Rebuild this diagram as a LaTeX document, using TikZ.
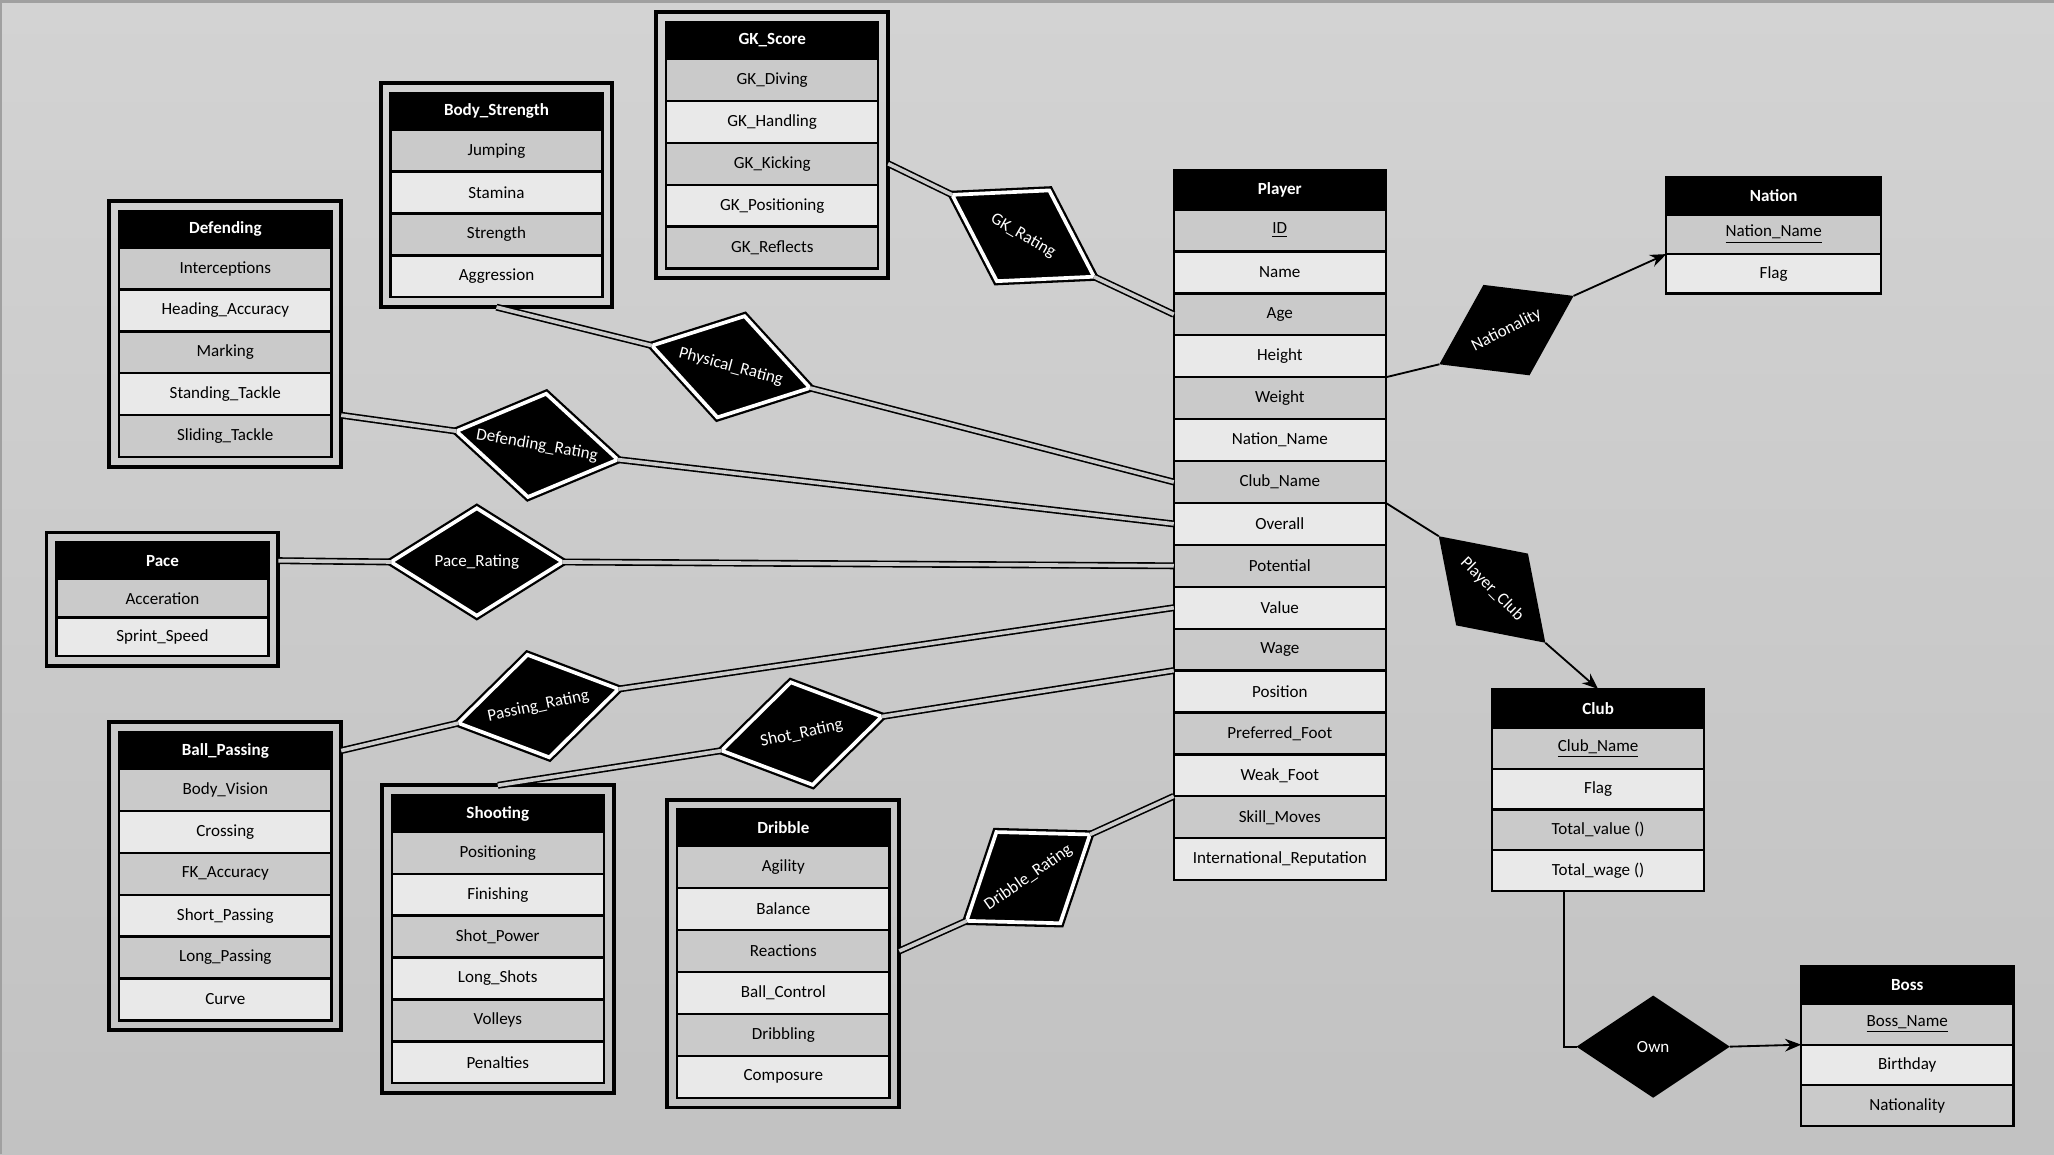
\documentclass[tikz,border=0pt]{standalone}
\usepackage{fontspec}
\setmainfont{Carlito}
\usetikzlibrary{positioning,fit,shapes.geometric,arrows.meta}

\definecolor{bgtop}{HTML}{D3D3D3}
\definecolor{bgbot}{HTML}{C2C2C2}
\definecolor{bgmid}{HTML}{CBCBCB}
\definecolor{edge}{HTML}{A0A0A0}
\definecolor{rowdark}{HTML}{CACACA}
\definecolor{rowlight}{HTML}{E9E9E9}

\begin{document}
\begin{tikzpicture}[x=0.02cm, y=-0.02cm, >={Stealth[length=7pt,width=5.5pt]}]

\tikzstyle{every node}=[font=\fontsize{7.4}{9}\selectfont, inner sep=0pt, outer sep=0pt]
\tikzstyle{head}=[rectangle, draw=black, fill=black, text=white, line width=1pt,
  font=\fontsize{7.4}{9}\selectfont\bfseries, minimum width=3.24cm, minimum height=0.56cm]
\tikzstyle{rowa}=[rectangle, draw=black, fill=rowdark, line width=1pt,
  minimum width=3.24cm, minimum height=0.64cm]
\tikzstyle{rowb}=[rowa, fill=rowlight]
\tikzstyle{frame}=[draw=black, line width=1.7pt, inner sep=0.15cm]
\tikzstyle{wrel}=[diamond, aspect=1.6, draw=black, fill=black, double=white, double distance=1.6pt,
  line width=1pt, text=white, minimum width=2.5cm, minimum height=1.6cm]
\tikzstyle{rel}=[diamond, aspect=1.6, fill=black, text=white, minimum width=2.3cm, minimum height=1.55cm]
\tikzstyle{dline}=[draw=black, line width=0.7pt, double=bgmid, double distance=1.6pt]
\tikzstyle{sline}=[draw=black, line width=0.8pt]

% background
\useasboundingbox (0,0) rectangle (1568,881);
\shade[top color=bgtop, bottom color=bgbot] (0,0) rectangle (1568,881);
\fill[edge] (0,0) rectangle (1568,2);
\fill[edge] (0,0) rectangle (1.5,881);

% GK_Score
\node[head] (gkhead) at (589.5,31) {GK\_Score};
\node[rowa, below=0pt of gkhead] (gkdiv) {GK\_Diving};
\node[rowb, below=0pt of gkdiv] (gkhand) {GK\_Handling};
\node[rowa, below=0pt of gkhand] (gkkick) {GK\_Kicking};
\node[rowb, below=0pt of gkkick] (gkpos) {GK\_Positioning};
\node[rowa, below=0pt of gkpos] (gkrefl) {GK\_Reflects};
\node[frame, fit=(gkhead)(gkrefl)] (gkframe) {};

% Body_Strength
\node[head] (bshead) at (379,85) {Body\_Strength};
\node[rowa, below=0pt of bshead] (jump) {Jumping};
\node[rowb, below=0pt of jump] (stam) {Stamina};
\node[rowa, below=0pt of stam] (stren) {Strength};
\node[rowb, below=0pt of stren] (aggr) {Aggression};
\node[frame, fit=(bshead)(aggr)] (bsframe) {};

% Defending
\node[head] (defhead) at (172,175) {Defending};
\node[rowa, below=0pt of defhead] (interc) {Interceptions};
\node[rowb, below=0pt of interc] (headacc) {Heading\_Accuracy};
\node[rowa, below=0pt of headacc] (mark) {Marking};
\node[rowb, below=0pt of mark] (sttack) {Standing\_Tackle};
\node[rowa, below=0pt of sttack] (sltack) {Sliding\_Tackle};
\node[frame, fit=(defhead)(sltack)] (defframe) {};

% Pace
\node[head] (pacehead) at (124,428) {Pace};
\node[rowa, minimum height=0.59cm, below=0pt of pacehead] (accel) {Acceration};
\node[rowb, minimum height=0.59cm, below=0pt of accel] (sprint) {Sprint\_Speed};
\node[frame, fit=(pacehead)(sprint)] (paceframe) {};

% Ball_Passing
\node[head] (bphead) at (172,573) {Ball\_Passing};
\node[rowa, below=0pt of bphead] (vision) {Body\_Vision};
\node[rowb, below=0pt of vision] (cross) {Crossing};
\node[rowa, below=0pt of cross] (fkacc) {FK\_Accuracy};
\node[rowb, below=0pt of fkacc] (shpass) {Short\_Passing};
\node[rowa, below=0pt of shpass] (lgpass) {Long\_Passing};
\node[rowb, below=0pt of lgpass] (curve) {Curve};
\node[frame, fit=(bphead)(curve)] (bpframe) {};

% Shooting
\node[head] (shoothead) at (380,621) {Shooting};
\node[rowa, below=0pt of shoothead] (spos) {Positioning};
\node[rowb, below=0pt of spos] (finish) {Finishing};
\node[rowa, below=0pt of finish] (shpow) {Shot\_Power};
\node[rowb, below=0pt of shpow] (lgshot) {Long\_Shots};
\node[rowa, below=0pt of lgshot] (volley) {Volleys};
\node[rowb, below=0pt of volley] (penal) {Penalties};
\node[frame, fit=(shoothead)(penal)] (shootframe) {};

% Dribble
\node[head] (dribhead) at (598,632) {Dribble};
\node[rowa, below=0pt of dribhead] (agil) {Agility};
\node[rowb, below=0pt of agil] (balance) {Balance};
\node[rowa, below=0pt of balance] (reactions) {Reactions};
\node[rowb, below=0pt of reactions] (ballctrl) {Ball\_Control};
\node[rowa, below=0pt of ballctrl] (dribbling) {Dribbling};
\node[rowb, below=0pt of dribbling] (compo) {Composure};
\node[frame, fit=(dribhead)(compo)] (dribframe) {};

% Player
\node[head, minimum height=0.6cm] (playerhead) at (977,145) {Player};
\node[rowa, below=0pt of playerhead] (pid) {\underline{ID}};
\node[rowb, below=0pt of pid] (pname) {Name};
\node[rowa, below=0pt of pname] (age) {Age};
\node[rowb, below=0pt of age] (height) {Height};
\node[rowa, below=0pt of height] (weight) {Weight};
\node[rowb, below=0pt of weight] (nationname) {Nation\_Name};
\node[rowa, below=0pt of nationname] (clubname) {Club\_Name};
\node[rowb, below=0pt of clubname] (overall) {Overall};
\node[rowa, below=0pt of overall] (potential) {Potential};
\node[rowb, below=0pt of potential] (value) {Value};
\node[rowa, below=0pt of value] (wage) {Wage};
\node[rowb, below=0pt of wage] (position) {Position};
\node[rowa, below=0pt of position] (prefoot) {Preferred\_Foot};
\node[rowb, below=0pt of prefoot] (weakfoot) {Weak\_Foot};
\node[rowa, below=0pt of weakfoot] (skill) {Skill\_Moves};
\node[rowb, below=0pt of skill] (intrep) {International\_Reputation};

% Nation
\node[head, minimum width=3.28cm, minimum height=0.58cm] (nationhead) at (1354,149.5) {Nation};
\node[rowa, minimum width=3.28cm, minimum height=0.6cm, below=0pt of nationhead] (nname) {\underline{Nation\_Name}};
\node[rowb, minimum width=3.28cm, minimum height=0.6cm, below=0pt of nname] (nflag) {Flag};

% Club
\node[head, minimum height=0.6cm] (clubhead) at (1220,541) {Club};
\node[rowa, minimum height=0.62cm, below=0pt of clubhead] (cname) {\underline{Club\_Name}};
\node[rowb, minimum height=0.62cm, below=0pt of cname] (cflag) {Flag};
\node[rowa, minimum height=0.62cm, below=0pt of cflag] (tvalue) {Total\_value ()};
\node[rowb, minimum height=0.62cm, below=0pt of tvalue] (twage) {Total\_wage ()};

% Boss
\node[head, minimum height=0.58cm] (bosshead) at (1456,752) {Boss};
\node[rowa, minimum height=0.62cm, below=0pt of bosshead] (bname) {\underline{Boss\_Name}};
\node[rowb, minimum height=0.62cm, below=0pt of bname] (birth) {Birthday};
\node[rowa, minimum height=0.62cm, below=0pt of birth] (bnation) {Nationality};

% relationships
\node[wrel, rotate=-30] (gkrat) at (781,180) {GK\_Rating};
\node[wrel, rotate=-15] (physrat) at (558,280) {Physical\_Rating};
\node[wrel, rotate=-10] (defrat) at (410,340) {Defending\_Rating};
\node[wrel, minimum width=2.62cm, minimum height=1.64cm] (pacerat) at (364,429) {Pace\_Rating};
\node[wrel, rotate=12] (passrat) at (411,539) {Passing\_Rating};
\node[wrel, rotate=12] (shotrat) at (612,560) {Shot\_Rating};
\node[wrel, rotate=35, aspect=1.35, minimum width=2.3cm, minimum height=1.7cm] (dribrat) at (785,670) {Dribble\_Rating};
\node[rel, rotate=27] (nat) at (1150,252) {Nationality};
\node[rel, rotate=-45] (pclub) at (1139,450) {Player\_Club};
\node[rel, minimum width=2.34cm, minimum height=1.56cm] (own) at (1262,799) {Own};

% connectors
\draw[dline] (gkframe.east |- gkkick) -- (gkrat.west);
\draw[dline] (gkrat.east) -- (age.west);
\draw[dline] (bsframe.south) -- (physrat.west);
\draw[dline] (physrat.east) -- (clubname.west);
\draw[dline] (defframe.east |- sltack.north) -- (defrat.west);
\draw[dline] (defrat.east) -- (overall.west);
\draw[dline] (paceframe.east |- pacehead) -- (pacerat.west);
\draw[dline] (pacerat.east) -- (potential.west);
\draw[dline] (bpframe.east |- bphead) -- (passrat.west);
\draw[dline] (passrat.east) -- (value.west);
\draw[dline] (shootframe.north) -- (shotrat.west);
\draw[dline] (shotrat.east) -- (position.north west);
\draw[dline] (dribframe.east |- reactions) -- (dribrat.west);
\draw[dline] (dribrat.east) -- (skill.north west);

\draw[sline] (weight.north east) -- (nat.west);
\draw[sline, ->] (nat.east) -- (nname.south west);
\draw[sline] (clubname.south east) -- (pclub.west);
\draw[sline, ->] (pclub.east) -- (clubhead.north);
\draw[sline] ([xshift=-0.52cm]twage.south) |- (own.west);
\draw[sline, ->] (own.east) -- (bname.south west);

\end{tikzpicture}
\end{document}
